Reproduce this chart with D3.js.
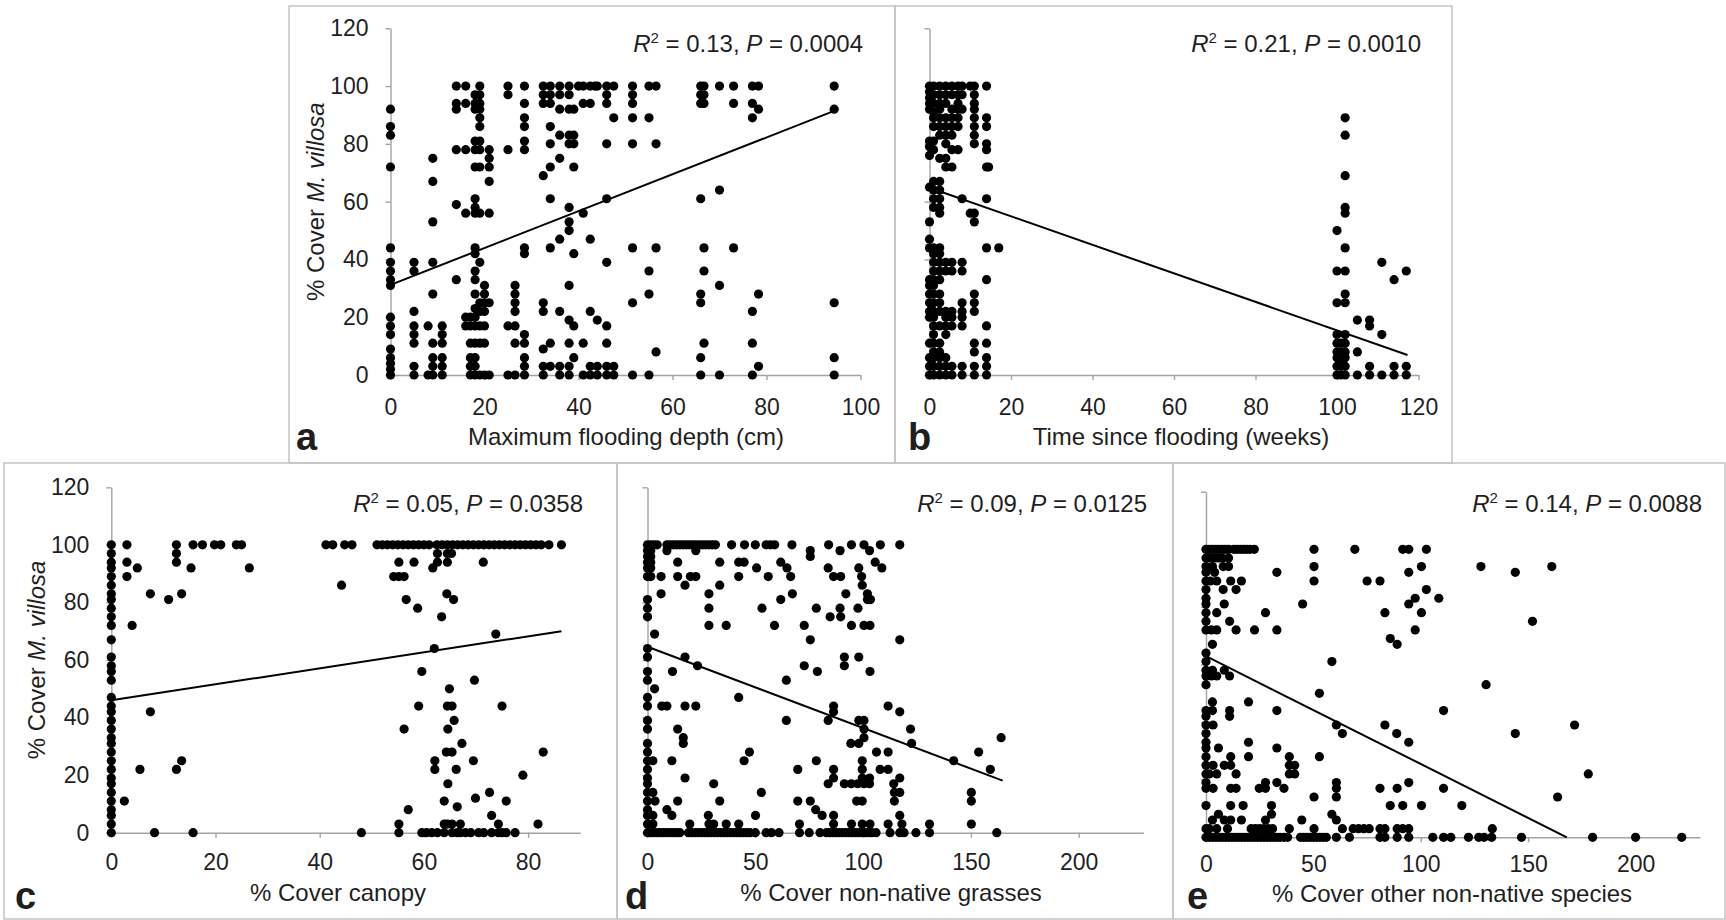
<!DOCTYPE html>
<html>
<head>
<meta charset="utf-8">
<script src="https://cdn.jsdelivr.net/npm/d3@7/dist/d3.min.js"></script>
<style>
  body { margin: 0; background: #fff; }
  svg text { font-family: "Liberation Sans", Arial, sans-serif; fill: #1f1f1f; }
</style>
</head>
<body>
<svg id="chart" width="1726" height="920"></svg>
<script>
// Cover of M. villosa (%) against five site variables.

// a: maximum flooding depth (cm) -> [depth, [cover...]]
const depthCols = [
  [0, [92, 86, 83, 72, 44, 39, 36, 33, 31, 20, 17, 14, 9, 6, 4, 2, 0]],
  [5, [39, 36, 22, 17, 14, 11, 3, 0]],
  [8, [17, 0]],
  [9, [75, 67, 53, 39, 28, 11, 6, 3, 0]],
  [11, [17, 14, 11, 6, 3, 0]],
  [14, [100, 94, 92, 78, 59, 33]],
  [16, [100, 94, 78, 56, 20, 17]],
  [17, [20, 17, 11, 6, 3, 0]],
  [18, [97, 94, 92, 81, 78, 72, 61, 58, 56, 44, 42, 36, 33, 28, 23, 20, 17, 11, 6, 3, 0]],
  [19, [100, 97, 94, 92, 89, 86, 81, 78, 72, 56, 39, 25, 22, 17, 11, 0]],
  [20, [31, 28, 25, 22, 17, 11, 0]],
  [21, [78, 75, 72, 67, 56, 25, 0]],
  [25, [100, 97, 78, 17, 0]],
  [26.5, [31, 28, 25, 22, 17, 11, 0]],
  [28.5, [100, 94, 89, 86, 81, 78, 44, 42, 14, 11, 6, 3, 0]],
  [32.5, [100, 97, 94, 69, 25, 22, 9, 3, 0]],
  [34, [100, 97, 94, 86, 80, 72, 61, 44, 11, 3]],
  [36, [100, 97, 92, 83, 75, 47, 22, 3, 0]],
  [38, [100, 97, 92, 83, 80, 58, 53, 50, 31, 19, 11, 3, 0]],
  [39, [92, 83, 80, 72, 42, 17, 6]],
  [40, [100]],
  [41, [100, 94, 56, 11, 0]],
  [42.5, [100, 94, 47, 22, 3, 0]],
  [43.5, [100]],
  [44, [100, 19, 3, 0]],
  [46, [100, 97, 94, 80, 61, 39, 17, 11, 3, 0]],
  [47.5, [100, 89, 3, 0]],
  [51.5, [100, 97, 94, 89, 80, 44, 25, 0]],
  [55, [100, 89, 36, 28, 0]],
  [56.5, [100, 80, 44, 8]],
  [66, [100, 97, 94, 61, 28, 25, 6, 0]],
  [66.7, [100, 97, 94, 44, 36, 11]],
  [70, [100, 64, 31, 0]],
  [73, [100, 94, 44]],
  [77, [100, 94, 89, 22, 11, 0]],
  [78.3, [100, 92, 28, 3]],
  [94.4, [100, 92, 25, 6, 0]]
];

// b: time since flooding (weeks) -> [weeks, [cover...]]
const timeCols = [
  [0, [100, 98, 96, 94, 92, 81, 79, 76, 65, 53, 47, 44, 33, 31, 28, 25, 22, 20, 11, 6, 3, 0]],
  [1, [100, 97, 94, 91, 89, 86, 81, 78, 67, 64, 61, 58, 44, 42, 39, 36, 33, 31, 28, 25, 22, 20, 17, 14, 11, 8, 6, 3, 0]],
  [2.5, [100, 97, 94, 92, 89, 86, 83, 75, 67, 64, 61, 58, 56, 44, 42, 39, 36, 33, 28, 25, 22, 17, 11, 8, 6, 3, 0]],
  [4, [100, 97, 94, 89, 86, 83, 80, 75, 72, 39, 36, 22, 20, 17, 14, 6, 3, 0]],
  [5.5, [100, 97, 92, 89, 86, 83, 78, 72, 39, 36, 22, 20, 17, 3, 0]],
  [7, [100, 97, 94, 92, 89, 86, 78]],
  [8, [100, 97, 92, 61, 39, 36, 25, 22, 20, 17, 3, 0]],
  [10, [100, 56]],
  [11, [100, 97, 94, 92, 89, 86, 83, 80, 56, 53, 28, 25, 22, 11, 8, 3, 0]],
  [14, [100, 89, 86, 80, 78, 72, 61, 44, 33, 17, 11, 6, 3, 0]],
  [14.5, [72]],
  [17, [44]],
  [100, [50, 36, 25, 14, 11, 8, 6, 3, 0]],
  [101, [11, 8, 6, 3, 0]],
  [102, [89, 83, 69, 58, 56, 44, 36, 28, 25, 14, 11, 8, 6, 3, 0]],
  [105, [19, 8, 0]],
  [108, [19, 17, 3, 0]],
  [111, [39, 14, 0]],
  [114, [33, 3, 0]],
  [117, [36, 3, 0]]
];

// c: canopy cover (%) -> [canopy, [cover...]]
const canopyCols = [
  [0, [100, 97, 94, 92, 89, 86, 83, 81, 78, 75, 72, 67, 61, 58, 56, 53, 47, 44, 42, 39, 36, 33, 31, 28, 25, 22, 19, 17, 14, 11, 8, 6, 3, 0]],
  [2.5, [11]], [3, [100, 94, 89]], [4, [72]], [5, [92]], [5.5, [22]],
  [7.5, [83, 42]], [8.3, [0]], [11, [81]], [12.5, [100, 97, 94, 22]], [13.5, [83, 25]],
  [15.3, [92]], [15.7, [100, 0]], [17.5, [100]], [19.8, [100]], [21, [100]],
  [24, [100]], [25, [100]], [26.5, [92]], [41.2, [100]], [42.5, [100]], [44.2, [86]],
  [44.8, [100]], [46.2, [100]], [48, [0]],
  [54.2, [89]], [55.2, [94, 89, 3, 0]], [56.2, [89, 36]], [56.6, [81]], [57, [8]],
  [58.1, [94]], [58.8, [78]], [59, [44]], [59.6, [56, 0]], [60.5, [0]], [61.5, [0]],
  [61.7, [92]], [62, [64]], [62.1, [25, 22]], [62.6, [97, 94, 0]], [63.4, [75]],
  [63.9, [11, 3, 0]], [64.3, [28]], [64.5, [97, 94, 44, 3]], [64.6, [36, 17]],
  [64.9, [50]], [64.4, [83]], [65.4, [44, 28, 3, 0]], [65.3, [97]], [65.7, [81]],
  [65.8, [39]], [66.2, [22]], [66.4, [9, 0]], [67, [3, 0]], [67.3, [31]], [68, [0]],
  [69, [0]], [69.5, [25]], [69.7, [53]], [69.9, [12]], [70.5, [0]], [71.4, [94]],
  [71.5, [0]], [72.6, [14]], [73, [6, 0]], [73.8, [69]], [74.3, [3, 0]], [75, [44, 0]],
  [75.8, [11, 0]], [77.5, [0]], [79, [20]], [81.9, [3]], [82.9, [28]]
];
// c: points along the 100 % row on the right-hand cluster
const canopyTopRow = [51, 52, 53, 54, 55, 56, 57, 58, 59, 60, 61, 62.5, 63.5, 64.5, 65.5,
  66.5, 67.5, 68.5, 69.5, 70.5, 71.5, 72.5, 73.5, 74.5, 75.5, 76.5, 77.5, 78.5, 79.5,
  80.5, 81.5, 82.5, 84, 86.4];

// d: non-native grass cover (%) -> [cover, [grass...]]
const grassRows = [
  [100, [0, 1.5, 3, 4.5, 9, 10.5, 12, 13.5, 15, 16.5, 18, 19.5, 21, 22.5, 24, 25.5, 27, 28.5, 30, 31.5, 39, 45, 50, 55, 57, 59, 67, 84, 94.6, 100.4, 108, 117]],
  [98, [0, 1.5, 9, 22.4, 75.5, 89.3, 103]],
  [96, [0, 1.5, 75.5]],
  [94, [0, 1.5, 14, 33.5, 42.3, 44.8, 61.8, 105.6]],
  [92, [0, 1.5, 50.6, 64.7, 83.8, 98, 108.7]],
  [89, [0, 1.5, 6.3, 14, 19.9, 22.4, 42.3, 56, 66.4, 86.3, 89.6, 99.3]],
  [86, [17.4, 33.5, 99.6]],
  [83, [6.3, 28.5, 67.2, 92, 102]],
  [81, [0, 61.8, 102, 103.4]],
  [78, [0, 28.5, 53.1, 78.3, 89.3, 97.6]],
  [75, [0, 84.7, 89.6]],
  [72, [28.5, 36.5, 58.9, 72.7, 94.6, 100.4, 103.2]],
  [69, [3.3]],
  [67, [75.5, 117]],
  [64, [0]],
  [61, [0, 17.4, 91.3, 98]],
  [58, [23.2, 72.7, 91.3]],
  [56, [0, 11.6, 78.8, 103.2]],
  [53, [0, 64.4]],
  [50, [3.3]],
  [47, [0, 42.3]],
  [44, [0, 6.6, 9, 17.4, 22.4, 86.3, 111.6]],
  [42, [86.3, 117]],
  [39, [0, 64.4, 83.8, 98, 100.4]],
  [36, [0, 14, 100.4, 122]],
  [33, [16.6, 100.4, 164]],
  [31, [0, 16.6, 94.3, 98, 122.5]],
  [28, [0, 47.3, 106.2, 111.6, 153.6]],
  [25, [0, 2.5, 11.3, 44.8, 78.3, 99.6, 142]],
  [22, [0, 69.7, 86.3, 99.6, 107.9, 111.6, 159]],
  [19, [0, 17.4, 86.3, 99.6, 103, 117]],
  [17, [0, 30.7, 83.8, 91.3, 94.5, 97.5, 100.4, 103, 114.2]],
  [14, [0, 2.5, 52.8, 114.5, 117, 150.2]],
  [11, [0, 3.5, 14, 33.5, 69.7, 75.5, 97, 99.6, 114.5, 150.2]],
  [8, [0, 9, 78]],
  [6, [0, 2.5, 11.3, 28.2, 50.1, 81, 86.3, 117]],
  [3, [0, 2.5, 19.6, 28.5, 30.7, 36.5, 42.3, 70.5, 86.3, 94.6, 99.6, 103.2, 111.6, 118, 130.8, 150.2]],
  [0, [0, 1.5, 3, 4.5, 6, 7.5, 9, 10.5, 12, 13.5, 15, 19, 20.5, 22, 23.5, 25, 26.5, 28, 29.5, 31, 32.5, 34, 35.5, 37, 38.5, 40, 41.5, 43, 44.5, 46, 47.5, 50, 55, 57.5, 61, 70.5, 75, 80, 83, 84.5, 86, 87.5, 89, 90.5, 92, 93.5, 95, 96.5, 98, 99.5, 101, 102.5, 104, 106, 112.5, 117, 119, 124.5, 130.8, 162]]
];

// e: other non-native species cover (%) -> [cover, [other...]]
const otherRows = [
  [100, [0, 1.5, 3, 4.5, 6, 7.5, 9, 10.5, 13, 14.5, 16, 17.5, 19, 20.5, 22.5, 50.3, 69.3, 91.6, 94.4, 102.6]],
  [97, [0, 1.5, 3, 4.5, 6, 7.5, 10.5]],
  [94, [0, 3, 8, 10.5, 50.3, 100.3, 128, 161]],
  [92, [0, 4, 33, 94.4, 144]],
  [89, [0, 2, 5, 11.5, 16.5, 50.3, 75, 81]],
  [86, [0, 8, 14, 102.6]],
  [83, [0, 97.4, 108.4]],
  [81, [0, 8.5, 45, 94.4]],
  [78, [0, 5, 27.7, 83.3, 100.3]],
  [75, [0, 11, 152]],
  [72, [0, 2.5, 5, 14, 22.6, 33, 97.4]],
  [69, [85.8]],
  [67, [3, 89]],
  [64, [0]],
  [61, [0, 58.6]],
  [58, [0, 3, 8.5]],
  [56, [0, 2.5, 5, 11]],
  [53, [0, 130.4]],
  [50, [52.8]],
  [47, [3, 19.8]],
  [44, [0, 3, 11, 33, 110.6]],
  [42, [0, 11]],
  [39, [0, 3.3, 60.7, 83.3, 171.6]],
  [36, [0, 63.5, 88.8, 144]],
  [33, [0, 19.8, 94.4]],
  [31, [0, 5.8, 33]],
  [28, [0, 11.5, 19.8, 38.8, 52.8]],
  [25, [0, 3.3, 8.5, 11.5, 38.8, 41.3]],
  [22, [0, 1.5, 5, 14, 38.8, 41.3, 178]],
  [19, [0, 27.7, 33, 60.7, 94.4]],
  [17, [0, 3.3, 11.5, 14, 24.8, 27.7, 36.3, 60.7, 81, 89, 110.6]],
  [14, [50.3, 60.7, 163.7]],
  [11, [0, 11.5, 17.3, 30.5, 85.8, 91.6, 100.3, 119.1]],
  [8, [5.8, 30.5, 58.6]],
  [6, [3, 8.5, 11.5, 16.5, 27.7, 44.6, 60.7]],
  [3, [0, 1.5, 5, 10, 21, 23, 25, 27, 29, 31, 38.8, 50.3, 63.5, 68.5, 71, 73.5, 76, 81, 83.3, 89, 91.6, 94.4, 133.3]],
  [0, [0, 1.5, 3, 4.5, 6, 7.5, 9, 10.5, 12, 13.5, 15, 16.5, 18, 19.5, 21, 22.5, 24, 25.5, 27, 28.5, 30, 31.5, 33, 34.5, 36.3, 38, 44, 45.5, 47, 48.5, 50, 51.5, 53, 54.5, 56, 60.7, 66.8, 81, 83.3, 89, 94.4, 105.6, 110.6, 114, 122.2, 127, 129.5, 133, 146.9, 180, 200, 221.5]]
];

// fitted regression lines: [x, y] end points
const trendA = [[0, 31.2], [94.4, 91.4]];
const trendB = [[0, 64.8], [117.3, 6.9]];
const trendC = [[0, 46], [86.4, 70]];
const trendD = [[0, 64.6], [164.7, 18.1]];
const trendE = [[0, 62.9], [168, 0]];

// R^2 and P per panel
const rSquared = ['0.13', '0.21', '0.05', '0.09', '0.14'];
const pValues = ['0.0004', '0.0010', '0.0358', '0.0125', '0.0088'];

const yTicks = [0, 20, 40, 60, 80, 100, 120];
const xTicksA = [0, 20, 40, 60, 80, 100];
const xTicksB = [0, 20, 40, 60, 80, 100, 120];
const xTicksC = [0, 20, 40, 60, 80];
const xTicksDE = [0, 50, 100, 150, 200];

const xTitles = ['Maximum flooding depth (cm)', 'Time since flooding (weeks)', '% Cover canopy',
  '% Cover non-native grasses', '% Cover other non-native species'];
const letters = ['a', 'b', 'c', 'd', 'e'];

const fromCols = cols => cols.flatMap(([x, ys]) => ys.map(y => [x, y]));
const fromRows = rows => rows.flatMap(([y, xs]) => xs.map(x => [x, y]));

const panels = [
  { pts: fromCols(depthCols), trend: trendA, xTicks: xTicksA, xMax: 100,
    box: [289, 6, 895, 463], xr: [390.5, 860.5], yr: [375, 28.3], yLabels: true, pad: 19,
    statX: 863, statY: 52, titleX: 626, titleY: 445, letterX: 296, letterY: 450, yTitleX: 316 },
  { pts: fromCols(timeCols), trend: trendB, xTicks: xTicksB, xMax: 120,
    box: [895, 6, 1452, 463], xr: [929.5, 1418.5], yr: [375, 28.3], yLabels: false, pad: 19,
    statX: 1421, statY: 52, titleX: 1181, titleY: 445, letterX: 908, letterY: 450 },
  { pts: fromCols(canopyCols).concat(canopyTopRow.map(x => [x, 100])), trend: trendC, xTicks: xTicksC, xMax: 90,
    box: [4, 463, 617, 919], xr: [111.3, 580.2], yr: [832.7, 487.3], yLabels: true, pad: 16,
    statX: 583, statY: 512, titleX: 338, titleY: 901, letterX: 15, letterY: 909, yTitleX: 37 },
  { pts: fromRows(grassRows), trend: trendD, xTicks: xTicksDE, xMax: 230,
    box: [617, 463, 1173, 919], xr: [647.5, 1143.4], yr: [832.7, 487.3], yLabels: false, pad: 16,
    statX: 1147, statY: 512, titleX: 891, titleY: 901, letterX: 625, letterY: 909 },
  { pts: fromRows(otherRows), trend: trendE, xTicks: xTicksDE, xMax: 230,
    box: [1173, 463, 1725, 919], xr: [1206, 1700], yr: [837.3, 491.7], yLabels: false, pad: 13,
    statX: 1702, statY: 512, titleX: 1452, titleY: 902, letterX: 1187, letterY: 909 }
];

const AXIS = '#a3a3a3';
const svg = d3.select('#chart');

panels.forEach((p, i) => {
  const g = svg.append('g');
  const [bx0, by0, bx1, by1] = p.box;
  g.append('rect')
    .attr('x', bx0).attr('y', by0).attr('width', bx1 - bx0).attr('height', by1 - by0)
    .attr('fill', 'none').attr('stroke', '#c4c4c4').attr('stroke-width', 1.5);

  const x = d3.scaleLinear().domain([0, p.xMax]).range(p.xr);
  const y = d3.scaleLinear().domain([0, 120]).range(p.yr);

  const yAxis = d3.axisLeft(y).tickValues(yTicks).tickSize(5).tickPadding(17).tickSizeOuter(0);
  if (!p.yLabels) yAxis.tickFormat(() => '');
  g.append('g').attr('transform', `translate(${p.xr[0]},0)`).call(yAxis)
    .call(a => a.selectAll('path, line').attr('stroke', AXIS).attr('stroke-width', 1.4))
    .call(a => a.selectAll('text').attr('font-size', 23).attr('fill', '#1f1f1f'));

  g.append('g').attr('transform', `translate(0,${p.yr[0]})`)
    .call(d3.axisBottom(x).tickValues(p.xTicks).tickSize(5).tickPadding(p.pad).tickSizeOuter(0))
    .call(a => a.selectAll('path, line').attr('stroke', AXIS).attr('stroke-width', 1.4))
    .call(a => a.selectAll('text').attr('font-size', 23).attr('fill', '#1f1f1f'));

  g.append('g').selectAll('circle').data(p.pts).join('circle')
    .attr('cx', d => x(d[0])).attr('cy', d => y(d[1])).attr('r', 4.6).attr('fill', '#000');

  g.append('path').datum(p.trend)
    .attr('d', d3.line().x(d => x(d[0])).y(d => y(d[1])))
    .attr('stroke', '#000').attr('stroke-width', 2).attr('fill', 'none');

  const stat = g.append('text').attr('x', p.statX).attr('y', p.statY)
    .attr('text-anchor', 'end').attr('font-size', 24);
  stat.append('tspan').attr('font-style', 'italic').text('R');
  stat.append('tspan').attr('font-size', 15).attr('dy', -9).text('2');
  stat.append('tspan').attr('dy', 9).text(` = ${rSquared[i]}, `);
  stat.append('tspan').attr('font-style', 'italic').text('P');
  stat.append('tspan').text(` = ${pValues[i]}`);

  g.append('text').attr('x', p.titleX).attr('y', p.titleY).attr('text-anchor', 'middle')
    .attr('font-size', 24).text(xTitles[i]);

  g.append('text').attr('x', p.letterX).attr('y', p.letterY)
    .attr('font-size', 38).attr('font-weight', 'bold').attr('fill', '#111').text(letters[i]);

  if (p.yTitleX) {
    const cy = (p.yr[0] + p.yr[1]) / 2;
    const t = g.append('text').attr('transform', `translate(${p.yTitleX},${cy}) rotate(-90)`)
      .attr('text-anchor', 'middle').attr('dy', '0.35em').attr('font-size', 24);
    t.append('tspan').text('% Cover ');
    t.append('tspan').attr('font-style', 'italic').text('M. villosa');
  }
});
</script>
</body>
</html>
